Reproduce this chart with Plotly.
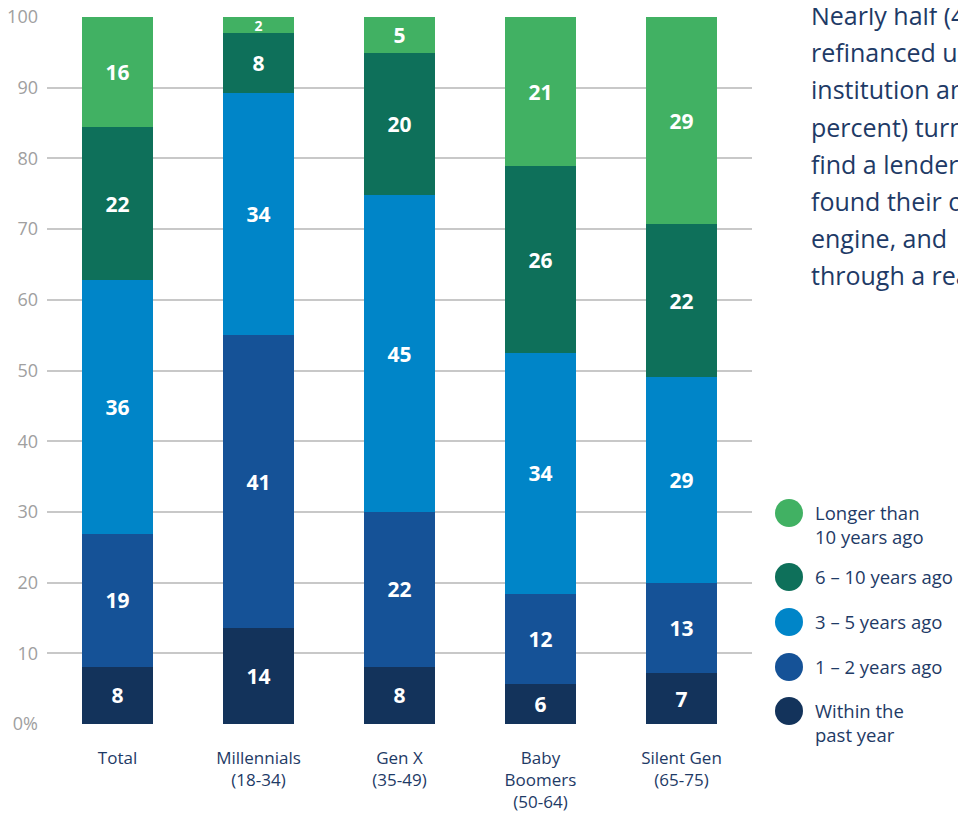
import plotly.graph_objects as go

# categories and segment values (percent)
categories = ["Total", "Millennials<br>(18-34)", "Gen X<br>(35-49)",
              "Baby<br>Boomers<br>(50-64)", "Silent Gen<br>(65-75)"]

within_past_year = [8.1, 13.6, 8.1, 5.7, 7.2]
one_two_years = [18.8, 41.4, 21.9, 12.7, 12.7]
three_five_years = [35.9, 34.2, 44.8, 34.1, 29.2]
six_ten_years = [21.6, 8.5, 20.1, 26.4, 21.6]
longer_than_ten = [15.6, 2.3, 5.1, 21.1, 29.3]

# printed labels
within_labels = ["8", "14", "8", "6", "7"]
one_two_labels = ["19", "41", "22", "12", "13"]
three_five_labels = ["36", "34", "45", "34", "29"]
six_ten_labels = ["22", "8", "20", "26", "22"]
longer_labels = ["16", "2", "5", "21", "29"]

series_names = ["Within the<br>past year", "1 – 2 years ago", "3 – 5 years ago",
                "6 – 10 years ago", "Longer than<br>10 years ago"]
colors = ["#13335B", "#155297", "#0085C8", "#0E705A", "#41B163"]

y_ticks = [0, 10, 20, 30, 40, 50, 60, 70, 80, 90, 100]
y_ticktext = ["0%", "10", "20", "30", "40", "50", "60", "70", "80", "90", "100"]

paragraph = ["Nearly half (48", "refinanced using", "institution and", "percent) turned",
             "find a lender,", "found their own", "engine, and", "through a real"]

FONT = "Open Sans"
NAVY_TEXT = "#1E3A66"

fig = go.Figure()
values = [within_past_year, one_two_years, three_five_years, six_ten_years, longer_than_ten]
labels = [within_labels, one_two_labels, three_five_labels, six_ten_labels, longer_labels]
for name, vals, labs, col in zip(series_names, values, labels, colors):
    sizes = [14 if v < 4 else 21 for v in vals]
    fig.add_trace(go.Bar(
        x=categories, y=vals, name=name,
        marker=dict(color=col, line=dict(width=0)),
        text=["<b>%s</b>" % t for t in labs],
        textposition="inside", insidetextanchor="middle", textangle=0,
        textfont=dict(color="white", size=sizes, family=FONT),
        constraintext="none",
        showlegend=False,
    ))

# page sits 8px in from the window corner, so work in window pixels minus 8
OFF = 8
W, H = 966 - OFF, 813 - OFF
L, T = 47 - OFF, 17 - OFF
R = W - (752 - OFF)
B = H - (724 - OFF)
pw, ph = W - L - R, H - T - B


def px(x):
    return (x - OFF - L) / pw


def py(y):
    return (H - B - (y - OFF)) / ph


# manual legend with round swatches
legend_rows = [(513, "Longer than<br>10 years ago", colors[4]),
               (577, "6 – 10 years ago", colors[3]),
               (622, "3 – 5 years ago", colors[2]),
               (667, "1 – 2 years ago", colors[1]),
               (711, "Within the<br>past year", colors[0])]
shapes = []
annotations = []
for yc, label, col in legend_rows:
    shapes.append(dict(type="circle", xref="paper", yref="paper",
                       x0=px(775), x1=px(803), y0=py(yc + 14), y1=py(yc - 14),
                       fillcolor=col, line=dict(width=0)))
    annotations.append(dict(xref="paper", yref="paper", x=px(813), y=py(yc - 15),
                            text=label, showarrow=False, xanchor="left", yanchor="top",
                            align="left", font=dict(size=18.5, color=NAVY_TEXT, family=FONT)))

for i, line in enumerate(paragraph):
    annotations.append(dict(xref="paper", yref="paper", x=px(809), y=py(15 + 37.2 * i),
                            text=line, showarrow=False, xanchor="left", yanchor="middle",
                            align="left", font=dict(size=25, color=NAVY_TEXT, family=FONT)))

fig.update_layout(
    barmode="stack",
    bargap=0.49,
    width=W, height=H,
    margin=dict(l=L, r=R, t=T, b=B, autoexpand=False),
    plot_bgcolor="white", paper_bgcolor="white",
    font=dict(family=FONT, color=NAVY_TEXT),
    shapes=shapes,
    annotations=annotations,
    xaxis=dict(showgrid=False, showline=False, ticks="", ticklabelstandoff=22,
               tickfont=dict(size=17, color=NAVY_TEXT, family=FONT)),
    yaxis=dict(range=[0, 100], tickvals=y_ticks, ticktext=y_ticktext,
               showgrid=True, gridcolor="#C8C8C8", gridwidth=1.5, zeroline=False,
               showline=False, ticks="", ticklabelstandoff=8,
               ticklabeloverflow="allow",
               tickfont=dict(size=18, color="#A0A0A0", family=FONT)),
)

fig.write_html("out.html")
